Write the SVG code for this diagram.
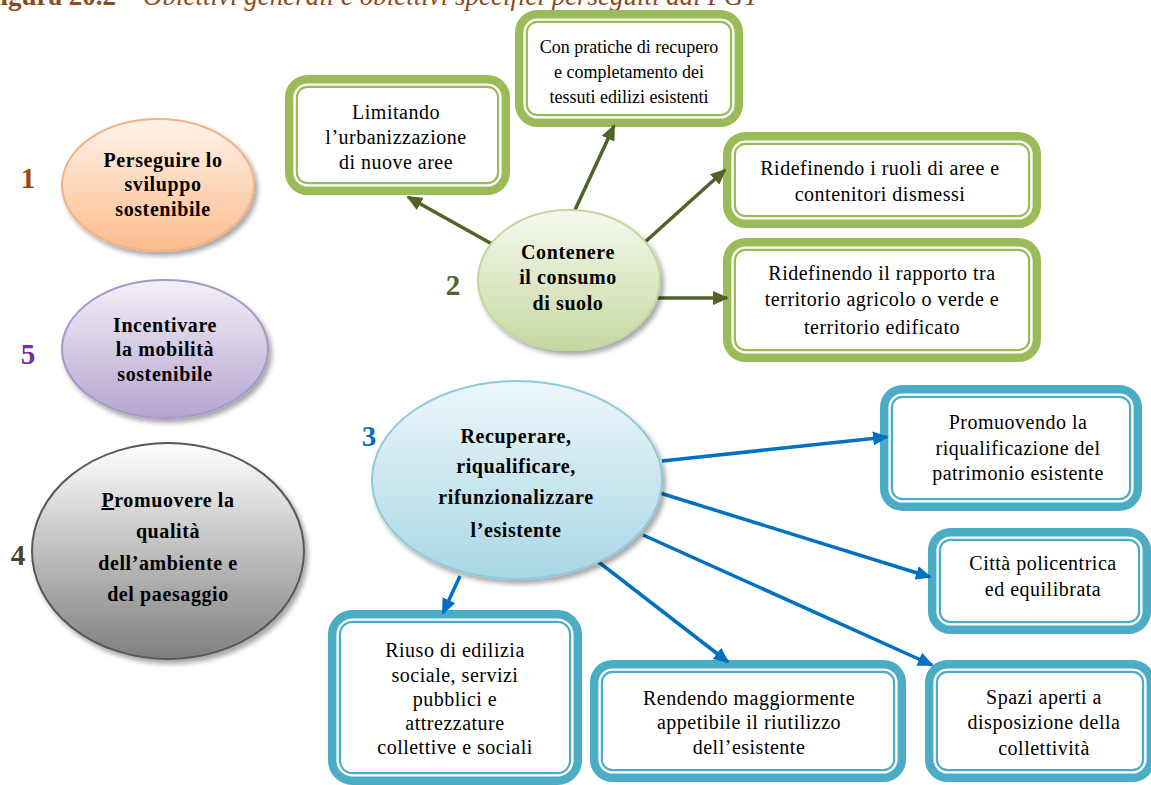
<svg xmlns="http://www.w3.org/2000/svg" width="1151" height="785" viewBox="0 0 1151 785">
<style>
.e{font-family:"Liberation Serif",serif;font-weight:bold;font-size:20px;text-anchor:middle;letter-spacing:0.6px;fill:#000}
.b{font-family:"Liberation Serif",serif;font-size:20px;text-anchor:middle;letter-spacing:0.5px;fill:#000}
.n{font-family:"Liberation Serif",serif;font-weight:bold;font-size:29px;text-anchor:middle}
.gb{fill:#fff;stroke:#9bbb59;stroke-width:13}
.bb{fill:#fff;stroke:#4bacc6;stroke-width:13}
.wl{fill:none;stroke:#fff;stroke-width:2.4}
.ga{stroke:#4f6228;stroke-width:3.5;fill:none;marker-end:url(#ag)}
.ba{stroke:#0070c0;stroke-width:3.5;fill:none;marker-end:url(#ab)}
.cap{font-family:"Liberation Serif",serif;font-size:27px;fill:#8b4a1c}
</style>
<defs>
<marker id="ag" markerUnits="userSpaceOnUse" markerWidth="16" markerHeight="14" refX="14" refY="7" orient="auto"><path d="M0,0 L16,7 L0,14 Z" fill="#4f6228"/></marker>
<marker id="ab" markerUnits="userSpaceOnUse" markerWidth="16" markerHeight="14" refX="14" refY="7" orient="auto"><path d="M0,0 L16,7 L0,14 Z" fill="#0070c0"/></marker>
<linearGradient id="g1" x1="0" y1="0" x2="0" y2="1"><stop offset="0" stop-color="#fff3ea"/><stop offset="1" stop-color="#fbbc8c"/></linearGradient>
<linearGradient id="g5" x1="0" y1="0" x2="0" y2="1"><stop offset="0" stop-color="#f4f0f8"/><stop offset="1" stop-color="#b5a4cf"/></linearGradient>
<linearGradient id="g4" x1="0" y1="0" x2="0" y2="1"><stop offset="0" stop-color="#ffffff"/><stop offset="1" stop-color="#7f7f7f"/></linearGradient>
<linearGradient id="g2" x1="0" y1="0" x2="0" y2="1"><stop offset="0" stop-color="#f5f8ee"/><stop offset="1" stop-color="#c5d9a0"/></linearGradient>
<linearGradient id="g3" x1="0" y1="0" x2="0" y2="1"><stop offset="0" stop-color="#ecf6fa"/><stop offset="1" stop-color="#a9d7e5"/></linearGradient>
<filter id="sh" x="-10%" y="-10%" width="125%" height="130%"><feDropShadow dx="3" dy="4" stdDeviation="2.5" flood-color="#000" flood-opacity="0.35"/></filter>
</defs>

<text class="cap" x="-16" y="5"><tspan font-weight="bold">Figura 20.2 – </tspan><tspan font-style="italic">Obiettivi generali e obiettivi specifici perseguiti dal PGT</tspan></text>

<g id="boxA"><rect class="gb" x="291.5" y="81.5" width="212" height="107" rx="16"/><rect class="wl" x="294.6" y="84.6" width="205.8" height="100.8" rx="13"/>
<text class="b" x="396" y="119">Limitando</text><text class="b" x="396" y="144">l’urbanizzazione</text><text class="b" x="396" y="169">di nuove aree</text></g>

<g id="boxB"><rect class="gb" x="521.5" y="16.5" width="215" height="104" rx="16"/><rect class="wl" x="524.6" y="19.6" width="208.8" height="97.8" rx="13"/>
<text class="b" x="629" y="53" style="font-size:18px;letter-spacing:0">Con pratiche di recupero</text><text class="b" x="629" y="78" style="font-size:18px;letter-spacing:0">e completamento dei</text><text class="b" x="629" y="103" style="font-size:18px;letter-spacing:0">tessuti edilizi esistenti</text></g>

<g id="boxC"><rect class="gb" x="729.5" y="138.5" width="305" height="83" rx="16"/><rect class="wl" x="732.6" y="141.6" width="298.8" height="76.8" rx="13"/>
<text class="b" x="880" y="175">Ridefinendo i ruoli di aree e</text><text class="b" x="880" y="201">contenitori dismessi</text></g>

<g id="boxD"><rect class="gb" x="729.5" y="244.5" width="305" height="111" rx="16"/><rect class="wl" x="732.6" y="247.6" width="298.8" height="104.8" rx="13"/>
<text class="b" x="882" y="280">Ridefinendo il rapporto tra</text><text class="b" x="882" y="306">territorio agricolo o verde e</text><text class="b" x="882" y="334">territorio edificato</text></g>

<g id="boxE"><rect class="bb" x="886.5" y="391.5" width="249" height="113" rx="16"/><rect class="wl" x="889.6" y="394.6" width="242.8" height="106.8" rx="13"/>
<text class="b" x="1018" y="429">Promuovendo la</text><text class="b" x="1018" y="455">riqualificazione del</text><text class="b" x="1018" y="480">patrimonio esistente</text></g>

<g id="boxF"><rect class="bb" x="934.5" y="534.5" width="210" height="93" rx="16"/><rect class="wl" x="937.6" y="537.6" width="203.8" height="86.8" rx="13"/>
<text class="b" x="1043" y="570">Città policentrica</text><text class="b" x="1043" y="596">ed equilibrata</text></g>

<g id="boxG"><rect class="bb" x="334.5" y="616.5" width="241" height="162" rx="18"/><rect class="wl" x="337.6" y="619.6" width="234.8" height="155.8" rx="15"/>
<text class="b" x="455" y="657">Riuso di edilizia</text><text class="b" x="455" y="682">sociale, servizi</text><text class="b" x="455" y="706">pubblici e</text><text class="b" x="455" y="730">attrezzature</text><text class="b" x="455" y="754">collettive e sociali</text></g>

<g id="boxH"><rect class="bb" x="596.5" y="666.5" width="303" height="109" rx="16"/><rect class="wl" x="599.6" y="669.6" width="296.8" height="102.8" rx="13"/>
<text class="b" x="749" y="705">Rendendo maggiormente</text><text class="b" x="749" y="729">appetibile il riutilizzo</text><text class="b" x="749" y="754">dell’esistente</text></g>

<g id="boxI"><rect class="bb" x="931.5" y="666.5" width="217" height="109" rx="16"/><rect class="wl" x="934.6" y="669.6" width="210.8" height="102.8" rx="13"/>
<text class="b" x="1044" y="704">Spazi aperti a</text><text class="b" x="1044" y="729">disposizione della</text><text class="b" x="1044" y="755">collettività</text></g>

<g id="connectors">
<line class="ga" x1="492" y1="244" x2="408" y2="197"/>
<line class="ga" x1="574" y1="212" x2="614" y2="126"/>
<line class="ga" x1="645" y1="242" x2="725" y2="170"/>
<line class="ga" x1="656" y1="298" x2="727" y2="298"/>
<line class="ba" x1="662" y1="461" x2="887" y2="437"/>
<line class="ba" x1="660" y1="493" x2="930" y2="577"/>
<line class="ba" x1="643" y1="535" x2="932" y2="665"/>
<line class="ba" x1="596" y1="560" x2="728" y2="662"/>
<line class="ba" x1="460" y1="576" x2="443" y2="613"/>
</g>

<g id="goal1"><ellipse cx="158" cy="185" rx="96" ry="66" fill="url(#g1)" stroke="#f4b183" stroke-width="2" filter="url(#sh)"/>
<text class="n" x="28" y="188" fill="#984806">1</text>
<text class="e" x="163" y="167">Perseguire lo</text><text class="e" x="163" y="191">sviluppo</text><text class="e" x="163" y="216">sostenibile</text></g>

<g id="goal5"><ellipse cx="165" cy="349" rx="103" ry="69" fill="url(#g5)" stroke="#a896c8" stroke-width="2" filter="url(#sh)"/>
<text class="n" x="28" y="364" fill="#7030a0">5</text>
<text class="e" x="165" y="332">Incentivare</text><text class="e" x="165" y="356">la mobilità</text><text class="e" x="165" y="381">sostenibile</text></g>

<g id="goal4"><ellipse cx="168" cy="551" rx="136" ry="108" fill="url(#g4)" stroke="#595959" stroke-width="2" filter="url(#sh)"/>
<text class="n" x="18" y="565" fill="#494429">4</text>
<text class="e" x="168" y="507"><tspan text-decoration="underline">P</tspan>romuovere la</text><text class="e" x="168" y="538">qualità</text><text class="e" x="168" y="570">dell’ambiente e</text><text class="e" x="168" y="601">del paesaggio</text></g>

<g id="goal2"><ellipse cx="569" cy="280" rx="91" ry="70" fill="url(#g2)" stroke="#c3d69b" stroke-width="2" filter="url(#sh)"/>
<text class="n" x="453" y="295" fill="#4f6228">2</text>
<text class="e" x="568" y="259">Contenere</text><text class="e" x="568" y="284">il consumo</text><text class="e" x="568" y="310">di suolo</text></g>

<g id="goal3"><ellipse cx="517" cy="480" rx="145" ry="99" fill="url(#g3)" stroke="#8fcadb" stroke-width="2" filter="url(#sh)"/>
<text class="n" x="369" y="446" fill="#0070c0">3</text>
<text class="e" x="516" y="443">Recuperare,</text><text class="e" x="516" y="473">riqualificare,</text><text class="e" x="516" y="504">rifunzionalizzare</text><text class="e" x="516" y="537">l’esistente</text></g>
</svg>
